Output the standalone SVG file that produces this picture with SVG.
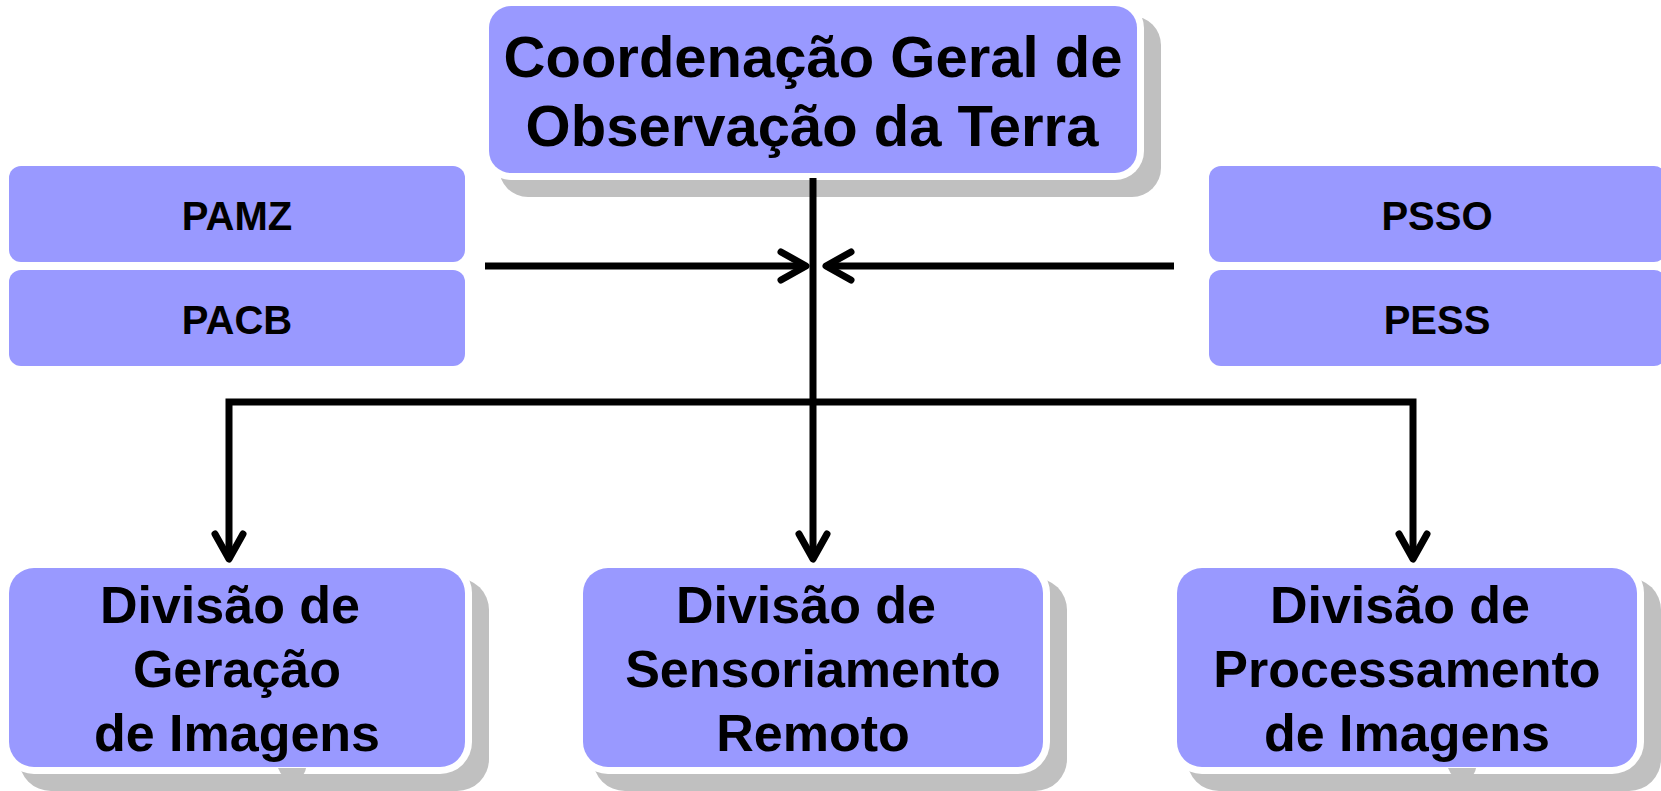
<svg xmlns="http://www.w3.org/2000/svg" width="1661" height="791" viewBox="0 0 1661 791">
<style>
.box{fill:#9999ff}
.out{fill:#ffffff}
.sh{fill:#c0c0c0}
text{font-family:"Liberation Sans",Arial,Helvetica,sans-serif;font-weight:bold;fill:#000;text-anchor:middle}
.big{font-size:58px}
.mid{font-size:52px}
.sm{font-size:40px}
.con{fill:none;stroke:#000;stroke-width:7;stroke-linejoin:miter}
</style>
<defs>
<marker id="arr" markerUnits="userSpaceOnUse" markerWidth="40" markerHeight="40" viewBox="-35 -20 40 40" refX="0" refY="0" orient="auto" overflow="visible">
<path d="M-25 -14 L0 0 L-25 14" fill="none" stroke="#000" stroke-width="7" stroke-linecap="round" stroke-linejoin="round"/>
</marker>
</defs>
<rect width="1661" height="791" fill="#ffffff"/>
<g id="coord">
<rect class="sh" x="499" y="16" width="662" height="181" rx="29"/>
<rect class="out" x="482" y="-1" width="662" height="181" rx="29"/>
<rect class="box" x="489" y="6" width="648" height="167" rx="22"/>
<text class="big" x="813" y="77">Coordenação Geral de</text>
<text class="big" x="812" y="146">Observação da Terra</text>
</g>
<g id="pamz">
<rect class="box" x="9" y="166" width="456" height="96" rx="12"/>
<text class="sm" x="237" y="230">PAMZ</text>
</g>
<g id="pacb">
<rect class="box" x="9" y="270" width="456" height="96" rx="12"/>
<text class="sm" x="237" y="334">PACB</text>
</g>
<g id="psso">
<rect class="box" x="1209" y="166" width="457" height="96" rx="12"/>
<text class="sm" x="1437" y="230">PSSO</text>
</g>
<g id="pess">
<rect class="box" x="1209" y="270" width="457" height="96" rx="12"/>
<text class="sm" x="1437" y="334">PESS</text>
</g>
<g id="dgi">
<rect class="sh" x="19" y="578" width="470" height="213" rx="32"/>
<rect class="out" x="2" y="561" width="470" height="213" rx="32"/>
<path class="sh" d="M278 768 H306 Q304 779 292 779 Q282 779 278 768 Z"/>
<rect class="box" x="9" y="568" width="456" height="199" rx="25"/>
<text class="mid" x="230" y="623">Divisão de</text>
<text class="mid" x="237" y="687">Geração</text>
<text class="mid" x="237" y="751">de Imagens</text>
</g>
<g id="dsr">
<rect class="sh" x="593" y="578" width="474" height="213" rx="32"/>
<rect class="out" x="576" y="561" width="474" height="213" rx="32"/>
<rect class="box" x="583" y="568" width="460" height="199" rx="25"/>
<text class="mid" x="806" y="623">Divisão de</text>
<text class="mid" x="813" y="687">Sensoriamento</text>
<text class="mid" x="813" y="751">Remoto</text>
</g>
<g id="dpi">
<rect class="sh" x="1187" y="578" width="474" height="213" rx="32"/>
<rect class="out" x="1170" y="561" width="474" height="213" rx="32"/>
<path class="sh" d="M1448 768 H1476 Q1474 779 1462 779 Q1452 779 1448 768 Z"/>
<rect class="box" x="1177" y="568" width="460" height="199" rx="25"/>
<text class="mid" x="1400" y="623">Divisão de</text>
<text class="mid" x="1407" y="687">Processamento</text>
<text class="mid" x="1407" y="751">de Imagens</text>
</g>
<g id="connectors">
<path class="con" d="M813 178 V559" marker-end="url(#arr)"/>
<path class="con" d="M485 266 H806" marker-end="url(#arr)"/>
<path class="con" d="M1174 266 H826" marker-end="url(#arr)"/>
<path class="con" d="M813 402 H229 V559" marker-end="url(#arr)"/>
<path class="con" d="M813 402 H1413 V559" marker-end="url(#arr)"/>
</g>
</svg>
